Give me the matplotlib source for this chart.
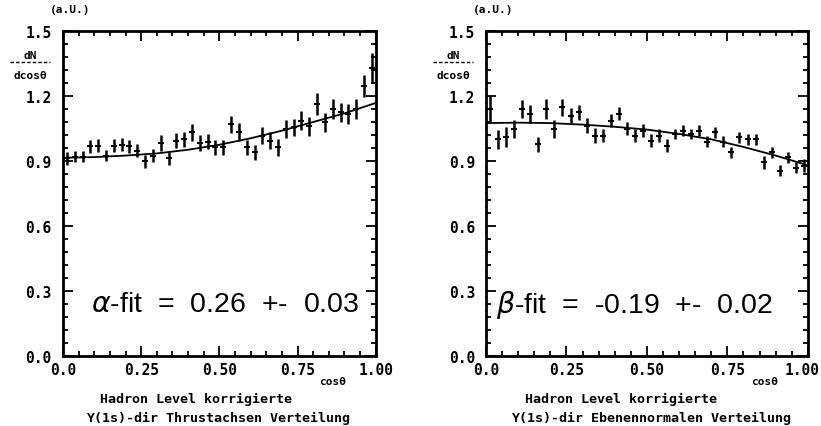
#!/usr/bin/env python3

import numpy as np
import matplotlib
matplotlib.use("Agg")
import matplotlib.pyplot as plt
from matplotlib.lines import Line2D
from matplotlib.ticker import MultipleLocator

# bin centres, 40 bins of cos(theta)
cos_bins = np.arange(40) * 0.025 + 0.0125

thrust_vals = [0.912, 0.920, 0.920, 0.968, 0.970, 0.925, 0.970, 0.974, 0.968, 0.947,
               0.900, 0.925, 0.983, 0.912, 0.994, 1.000, 1.032, 0.983, 0.990, 0.963,
               0.963, 1.070, 1.034, 0.963, 0.940, 1.017, 0.994, 0.963, 1.048, 1.056,
               1.086, 1.060, 1.163, 1.078, 1.140, 1.125, 1.117, 1.140, 1.245, 1.330]
thrust_errs = [0.030, 0.025, 0.025, 0.030, 0.030, 0.025, 0.030, 0.030, 0.030, 0.030,
               0.030, 0.030, 0.035, 0.030, 0.035, 0.035, 0.040, 0.035, 0.035, 0.035,
               0.035, 0.040, 0.040, 0.035, 0.035, 0.040, 0.040, 0.040, 0.040, 0.040,
               0.045, 0.045, 0.050, 0.045, 0.045, 0.045, 0.045, 0.045, 0.050, 0.070]

normal_vals = [1.140, 1.000, 1.010, 1.048, 1.140, 1.117, 0.978, 1.140, 1.048, 1.148,
               1.110, 1.125, 1.063, 1.017, 1.017, 1.086, 1.117, 1.048, 1.017, 1.040,
               0.994, 1.017, 0.970, 1.025, 1.040, 1.025, 1.040, 0.990, 1.032, 0.990,
               0.940, 1.010, 1.000, 1.000, 0.894, 0.940, 0.855, 0.917, 0.870, 0.877]
normal_errs = [0.060, 0.045, 0.045, 0.040, 0.040, 0.040, 0.035, 0.045, 0.040, 0.040,
               0.035, 0.035, 0.035, 0.035, 0.030, 0.030, 0.030, 0.030, 0.030, 0.030,
               0.030, 0.030, 0.030, 0.025, 0.025, 0.025, 0.025, 0.025, 0.025, 0.025,
               0.025, 0.025, 0.025, 0.025, 0.030, 0.025, 0.025, 0.025, 0.025, 0.030]

fit_x = [0.0, 0.1, 0.2, 0.3, 0.4, 0.5, 0.6, 0.7, 0.8, 0.9, 1.0]
thrust_fit = [0.915, 0.918, 0.925, 0.935, 0.952, 0.975, 1.005, 1.040, 1.080, 1.120, 1.168]
normal_fit = [1.075, 1.077, 1.075, 1.068, 1.058, 1.045, 1.025, 1.000, 0.965, 0.925, 0.880]

x_ticks = [0.0, 0.25, 0.5, 0.75, 1.0]
x_tick_labels = ["0.0", "0.25", "0.50", "0.75", "1.00"]

panels = [
    {
        "rect": [0.0767, 0.164, 0.381, 0.761],
        "vals": thrust_vals, "errs": thrust_errs, "fit": thrust_fit,
        "fit_text": r"$\alpha$-fit  =  0.26  +-  0.03", "fit_x": 0.09,
        "line2": "\u03a5(1s)-dir Thrustachsen Verteilung",
        "cap_x": 0.239, "line2_x": 0.265,
    },
    {
        "rect": [0.592, 0.164, 0.392, 0.761],
        "vals": normal_vals, "errs": normal_errs, "fit": normal_fit,
        "fit_text": r"$\beta$-fit  =  -0.19  +-  0.02", "fit_x": 0.03,
        "line2": "\u03a5(1s)-dir Ebenennormalen Verteilung",
        "cap_x": 0.757, "line2_x": 0.793,
    },
]

TICK_FONT = {"family": "DejaVu Sans Mono", "weight": "bold", "size": 10.5}
LABEL_FONT = {"family": "DejaVu Sans Mono", "weight": "bold", "size": 8}
CAP_FONT = {"family": "DejaVu Sans Mono", "weight": "bold", "size": 9.6}


def draw_panel(fig, p, last):
    ax = fig.add_axes(p["rect"])
    ax.errorbar(cos_bins, p["vals"], yerr=p["errs"], fmt="_", color="black",
                ms=5, mew=1.5, elinewidth=1.8, capsize=0)
    ax.plot(fit_x, p["fit"], color="black", lw=1.3)

    ax.set_xlim(0, 1)
    ax.set_ylim(0, 1.5)
    ax.set_xticks(x_ticks)
    labels = list(x_tick_labels)
    if last:
        # the 1.00 of the right panel is drawn by hand so it stays inside
        labels[-1] = ""
        ax.text(0.983, -0.019, x_tick_labels[-1], transform=ax.transAxes,
                fontproperties=TICK_FONT, ha="center", va="top")
    ax.set_xticklabels(labels)
    ax.xaxis.set_minor_locator(MultipleLocator(0.05))
    ax.yaxis.set_major_locator(MultipleLocator(0.3))
    ax.yaxis.set_minor_locator(MultipleLocator(0.06))
    ax.yaxis.set_major_formatter(lambda v, pos: f"{v:.1f}")
    ax.tick_params(which="both", direction="in", top=True, right=True, width=1.3)
    ax.tick_params(which="major", length=7)
    ax.tick_params(which="minor", length=3.5)
    ax.tick_params(axis="x", which="major", pad=4)
    ax.tick_params(axis="y", which="major", pad=8)
    for lab in ax.get_xticklabels() + ax.get_yticklabels():
        lab.set_fontproperties(TICK_FONT)
    for sp in ax.spines.values():
        sp.set_linewidth(2)

    ax.text(p["fit_x"], 0.16, p["fit_text"], transform=ax.transAxes,
            fontsize=20.5, family="Liberation Sans", va="center")

    bb = ax.get_position()
    fig.text(bb.x0 - 0.016, bb.y1 + 0.045, "(a.U.)", fontproperties=LABEL_FONT)
    fx = bb.x0 - 0.040
    fig.text(fx, 0.862, "dN", fontproperties=LABEL_FONT, ha="center")
    fig.add_artist(Line2D([fx - 0.024, fx + 0.024], [0.853, 0.853],
                          color="black", lw=1, ls=(0, (2.5, 1.5))))
    fig.text(fx, 0.815, "dcos\u03b8", fontproperties=LABEL_FONT, ha="center")
    fig.text(bb.x1 - 0.053, bb.y0 - 0.066, "cos\u03b8", fontproperties=LABEL_FONT,
             ha="center")
    fig.text(p["cap_x"], bb.y0 - 0.108, "Hadron Level korrigierte",
             fontproperties=CAP_FONT, ha="center")
    fig.text(p["line2_x"], bb.y0 - 0.152, p["line2"],
             fontproperties=CAP_FONT, ha="center")


def main():
    fig = plt.figure(figsize=(8.21, 4.27), dpi=100)
    for i, p in enumerate(panels):
        draw_panel(fig, p, i == len(panels) - 1)
    fig.savefig("out.png", dpi=100)


if __name__ == "__main__":
    main()
